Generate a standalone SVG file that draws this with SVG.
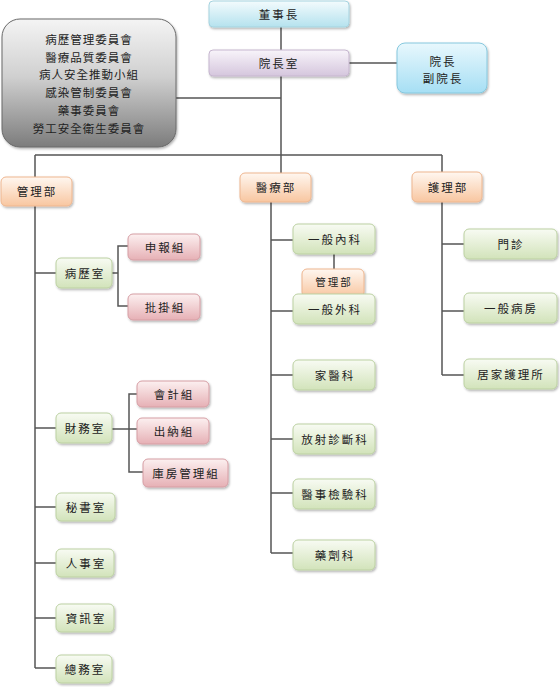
<svg xmlns="http://www.w3.org/2000/svg" width="560" height="687" viewBox="0 0 560 687">
<defs>
<linearGradient id="gCyan" x1="0" y1="0" x2="0" y2="1"><stop offset="0" stop-color="#f3fbfd"/><stop offset="1" stop-color="#b5e2ee"/></linearGradient>
<linearGradient id="gLav" x1="0" y1="0" x2="0" y2="1"><stop offset="0" stop-color="#f8f4fa"/><stop offset="1" stop-color="#d5c6dd"/></linearGradient>
<linearGradient id="gBlue" x1="0" y1="0" x2="0" y2="1"><stop offset="0" stop-color="#e8f8fd"/><stop offset="1" stop-color="#a6dff4"/></linearGradient>
<linearGradient id="gGray" x1="0" y1="0" x2="0" y2="1"><stop offset="0" stop-color="#f4f4f4"/><stop offset="0.45" stop-color="#d0d0d0"/><stop offset="1" stop-color="#7c7c7c"/></linearGradient>
<linearGradient id="gOrange" x1="0" y1="0" x2="0" y2="1"><stop offset="0" stop-color="#fff7f0"/><stop offset="1" stop-color="#f8c6a0"/></linearGradient>
<linearGradient id="gGreen" x1="0" y1="0" x2="0" y2="1"><stop offset="0" stop-color="#f8fbf3"/><stop offset="1" stop-color="#d2e3ba"/></linearGradient>
<linearGradient id="gPink" x1="0" y1="0" x2="0" y2="1"><stop offset="0" stop-color="#fcf0f0"/><stop offset="1" stop-color="#e6b0b5"/></linearGradient>
<filter id="sh" x="-10%" y="-10%" width="125%" height="140%"><feDropShadow dx="1" dy="1.5" stdDeviation="1" flood-color="#000" flood-opacity="0.3"/></filter>
</defs>
<style>
text{font-family:"Noto Sans CJK TC","Noto Sans CJK SC",sans-serif;font-size:11.5px;fill:#222;text-anchor:middle;dominant-baseline:central;letter-spacing:2px}
.box{filter:url(#sh);stroke-width:1}
.cyan{fill:url(#gCyan);stroke:#a6d3df}
.lav{fill:url(#gLav);stroke:#c6b6cf}
.blue{fill:url(#gBlue);stroke:#86c8de}
.gray{fill:url(#gGray);stroke:#6a6a6a}
.orange{fill:url(#gOrange);stroke:#eeb68f}
.green{fill:url(#gGreen);stroke:#bcd1a2}
.pink{fill:url(#gPink);stroke:#d69ea4}
.conn path{fill:none;stroke:#555;stroke-width:1.5}
.sm{font-size:10.5px}
</style>
<rect width="560" height="687" fill="#ffffff"/>
<g class="conn" id="connectors">
<path d="M281,27 V50"/>
<path d="M349,63 H397"/>
<path d="M281,76 V173"/>
<path d="M176,98 H281"/>
<path d="M35,155 H442"/>
<path d="M35,155 V177"/>
<path d="M442,155 V172"/>
<path d="M35,206 V668"/>
<path d="M35,273 H56 M35,428 H56 M35,507 H56 M35,563 H56 M35,618 H56 M35,668 H56"/>
<path d="M112,273 H118 M128,246 H118 V306 H128"/>
<path d="M112,429 H137 M137,394 H129 V472 H143"/>
<path d="M271,202 V553"/>
<path d="M271,240 H293 M271,311 H293 M271,375 H293 M271,439 H293 M271,493 H293 M271,553 H293"/>
<path d="M334,254 V269"/>
<path d="M442,202 V375"/>
<path d="M442,244 H464 M442,311 H464 M442,375 H464"/>
</g>
<g id="chairman"><rect class="box cyan" x="209" y="1" width="140" height="26" rx="4"/><text x="279" y="14">董事長</text></g>
<g id="president-office"><rect class="box lav" x="209" y="50" width="140" height="26" rx="4"/><text x="279" y="63">院長室</text></g>
<g id="president"><rect class="box blue" x="397" y="43" width="90" height="50" rx="8"/><text x="443" y="61">院長</text><text x="443" y="78">副院長</text></g>
<g id="committees"><rect class="box gray" x="2" y="19" width="174" height="128" rx="18"/>
<text x="89" y="39" style="letter-spacing:1px">病歷管理委員會</text>
<text x="89" y="57" style="letter-spacing:1px">醫療品質委員會</text>
<text x="89" y="74" style="letter-spacing:1px">病人安全推動小組</text>
<text x="89" y="92" style="letter-spacing:1px">感染管制委員會</text>
<text x="89" y="110" style="letter-spacing:1px">藥事委員會</text>
<text x="89" y="128" style="letter-spacing:1px">勞工安全衛生委員會</text></g>
<g id="mgmt-dept"><rect class="box orange" x="1" y="177" width="71" height="29" rx="5"/><text x="37" y="191">管理部</text></g>
<g id="med-dept"><rect class="box orange" x="240" y="173" width="71" height="29" rx="5"/><text x="276" y="187">醫療部</text></g>
<g id="nursing-dept"><rect class="box orange" x="412" y="172" width="70" height="30" rx="5"/><text x="448" y="187">護理部</text></g>
<g id="records"><rect class="box green" x="56" y="258" width="56" height="30" rx="5"/><text x="85" y="273">病歷室</text></g>
<g id="claims"><rect class="box pink" x="128" y="234" width="72" height="26" rx="5"/><text x="165" y="247">申報組</text></g>
<g id="registration"><rect class="box pink" x="128" y="294" width="72" height="26" rx="5"/><text x="165" y="307">批掛組</text></g>
<g id="finance"><rect class="box green" x="56" y="413" width="56" height="30" rx="5"/><text x="85" y="428">財務室</text></g>
<g id="accounting"><rect class="box pink" x="137" y="381" width="72" height="26" rx="5"/><text x="174" y="394">會計組</text></g>
<g id="cashier"><rect class="box pink" x="137" y="418" width="72" height="26" rx="5"/><text x="174" y="431">出納組</text></g>
<g id="warehouse"><rect class="box pink" x="143" y="459" width="85" height="28" rx="5"/><text x="186" y="473">庫房管理組</text></g>
<g id="secretary"><rect class="box green" x="56" y="493" width="59" height="28" rx="5"/><text x="86" y="507">秘書室</text></g>
<g id="personnel"><rect class="box green" x="56" y="549" width="58" height="28" rx="5"/><text x="86" y="563">人事室</text></g>
<g id="it"><rect class="box green" x="56" y="604" width="58" height="28" rx="5"/><text x="86" y="618">資訊室</text></g>
<g id="general-affairs"><rect class="box green" x="56" y="655" width="56" height="28" rx="5"/><text x="85" y="669">總務室</text></g>
<g id="internal-med"><rect class="box green" x="293" y="224" width="82" height="30" rx="5"/><text x="335" y="239">一般內科</text></g>
<g id="mgmt-small"><rect class="box orange" x="302" y="269" width="62" height="28" rx="5"/><text class="sm" x="334" y="281">管理部</text></g>
<g id="surgery"><rect class="box green" x="293" y="294" width="82" height="30" rx="5"/><text x="335" y="309">一般外科</text></g>
<g id="family-med"><rect class="box green" x="293" y="360" width="82" height="30" rx="5"/><text x="335" y="375">家醫科</text></g>
<g id="radiology"><rect class="box green" x="293" y="424" width="82" height="30" rx="5"/><text x="335" y="439">放射診斷科</text></g>
<g id="lab"><rect class="box green" x="293" y="479" width="82" height="30" rx="5"/><text x="335" y="494">醫事檢驗科</text></g>
<g id="pharmacy"><rect class="box green" x="293" y="540" width="82" height="30" rx="5"/><text x="335" y="555">藥劑科</text></g>
<g id="outpatient"><rect class="box green" x="464" y="229" width="93" height="30" rx="5"/><text x="511" y="244">門診</text></g>
<g id="ward"><rect class="box green" x="464" y="293" width="93" height="30" rx="5"/><text x="511" y="308">一般病房</text></g>
<g id="home-care"><rect class="box green" x="464" y="359" width="93" height="30" rx="5"/><text x="511" y="374">居家護理所</text></g>
</svg>
